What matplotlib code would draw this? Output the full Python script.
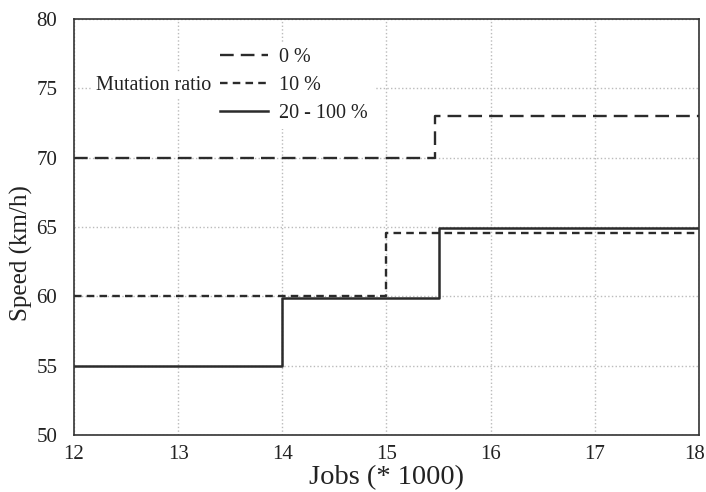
import matplotlib.pyplot as plt
import matplotlib.transforms as mtransforms

# data
x_0 = [12, 15.47, 18]
y_0 = [70, 73, 73]

x_10 = [12, 15.0, 18]
y_10 = [60, 64.6, 64.6]

x_20 = [12, 14, 15.5, 18]
y_20 = [55, 59.9, 64.9, 64.9]

labels = ["0 %", "10 %", "20 - 100 %"]
x_ticks = [12, 13, 14, 15, 16, 17, 18]
y_ticks = [50, 55, 60, 65, 70, 75, 80]


def show_data():
    """
    draw the step lines
    """
    plt.rcParams['font.family'] = ['Liberation Serif', 'DejaVu Serif']
    fig = plt.figure(figsize=(7.06, 4.92), dpi=100)
    ax = fig.add_axes([74 / 706, 1 - 435 / 492, 625 / 706, 416 / 492])

    line_color = "#2b2b2b"
    ax.step(x_0, y_0, where="post", color=line_color, linewidth=1.7,
            dashes=(5.8, 3), label=labels[0])
    ax.step(x_10, y_10, where="post", color=line_color, linewidth=1.7,
            dashes=(3.2, 2.2), label=labels[1])
    ax.step(x_20, y_20, where="post", color=line_color, linewidth=1.8,
            label=labels[2])

    ax.set_xlim(12, 18)
    ax.set_ylim(50, 80)
    ax.set_xticks(x_ticks)
    ax.set_yticks(y_ticks)
    ax.tick_params(length=0, labelsize=15, colors="#222222")
    ax.tick_params(axis="y", pad=12)
    ax.tick_params(axis="x", pad=7)
    ax.grid(True, linestyle=":", color="#bbbbbb", linewidth=1)
    ax.set_axisbelow(True)
    for sp in ax.spines.values():
        sp.set_color("#333333")
        sp.set_linewidth(1.2)

    # last x label pulled a little inside the picture
    shift = mtransforms.ScaledTranslation(-4 / 100, 0, fig.dpi_scale_trans)
    last = ax.get_xticklabels()[-1]
    last.set_transform(last.get_transform() + shift)

    ax.set_xlabel("Jobs (* 1000)", fontsize=20.5, labelpad=1, color="#222222")
    ax.set_ylabel("Speed (km/h)", fontsize=18, color="#222222")
    ax.yaxis.set_label_coords(-0.066, 0.4375)

    # legend without frame, title on the left
    leg = ax.legend(loc="center left", bbox_to_anchor=(0.224, 0.84),
                    fontsize=14.5, frameon=True, facecolor="white",
                    edgecolor="none", framealpha=1, fancybox=False,
                    handlelength=2.4, handletextpad=0.55, labelspacing=0.45,
                    borderpad=0.3, borderaxespad=0)
    for t in leg.get_texts():
        t.set_color("#222222")
    ax.text(0.219, 0.84, "Mutation ratio", transform=ax.transAxes,
            ha="right", va="center", fontsize=14.5, color="#222222",
            bbox=dict(facecolor="white", edgecolor="none", pad=3))

    plt.savefig("out.png", dpi=100)


def main():
    show_data()


if __name__ == '__main__':
    main()
